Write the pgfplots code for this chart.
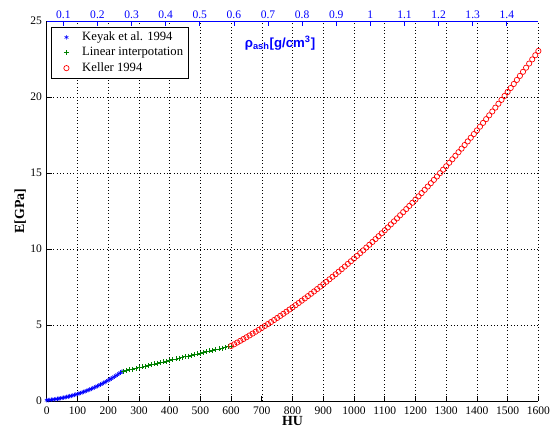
\documentclass[border=0pt]{standalone}
\usepackage{fontspec}
\setmainfont{Liberation Serif}
\setsansfont{Liberation Sans}
\usepackage{pgfplots}
\pgfplotsset{compat=1.18}
\definecolor{mgreen}{rgb}{0,0.5,0}
\begin{document}
\begin{tikzpicture}
\begin{axis}[
  name=main,
  scale only axis,
  width=353.5pt, height=273.2pt,
  xmin=0, xmax=1600, ymin=0, ymax=25,
  xtick={0,100,...,1600}, ytick={0,5,10,15,20,25},
  axis x line*=bottom, axis y line*=left,
  axis line style={-, black, line width=0.5pt},
  tick align=inside, major tick length=3.5pt,
  tick style={black, line width=0.5pt},
  grid=major,
  grid style={dotted, black, line width=0.45pt},
  clip=false,
  /pgf/number format/assume math mode=true,
  /pgf/number format/1000 sep={},
  tick label style={font=\fontsize{8.3}{10}\selectfont},
  xticklabel style={yshift=-0.5pt},
  xlabel={\textbf{HU}}, ylabel={\textbf{E[GPa]}},
  label style={font=\fontsize{11}{13}\selectfont},
  every axis x label/.style={at={(axis description cs:0.5,-0.053)},anchor=center},
  every axis y label/.style={at={(axis description cs:-0.054,0.5)},rotate=90,anchor=center},
  legend cell align=left,
  legend style={at={(axis description cs:0.0087,0.985)}, anchor=north west,
    draw=black, line width=0.5pt, fill=white,
    font=\fontsize{9.1}{11}\selectfont, inner xsep=1.5pt, inner ysep=1.5pt,
    row sep=-0.6pt},
  legend image code/.code={\path (0cm,0cm) (0.64cm,0cm); \draw[#1] plot coordinates {(0.32cm,0cm)};},
]
\addplot[only marks, mark=asterisk, mark size=1.6pt, blue, line width=0.4pt] coordinates {
(0,0.0493) (5,0.0594) (10,0.0704) (15,0.0825) (20,0.0956) (25,0.1098) (30,0.1251) (35,0.1414)
(40,0.1589) (45,0.1775) (50,0.1972) (55,0.2180) (60,0.2400) (65,0.2631) (70,0.2874) (75,0.3129)
(80,0.3396) (85,0.3675) (90,0.3965) (95,0.4268) (100,0.4583) (105,0.4910) (110,0.5250) (115,0.5602)
(120,0.5966) (125,0.6343) (130,0.6733) (135,0.7136) (140,0.7551) (145,0.7979) (150,0.8420) (155,0.8874)
(160,0.9341) (165,0.9821) (170,1.0314) (175,1.0820) (180,1.1340) (185,1.1873) (190,1.2419) (195,1.2979)
(200,1.3552) (205,1.4139) (210,1.4740) (215,1.5354) (220,1.5981) (225,1.6623) (230,1.7278) (235,1.7947)
(240,1.8630) (245,1.9327)
};
\addlegendentry{Keyak et al. 1994}
\addplot[only marks, mark=+, mark size=1.8pt, mgreen, line width=0.4pt] coordinates {
(250,1.960) (260,2.007) (270,2.055) (280,2.102) (290,2.150) (300,2.197) (310,2.245) (320,2.292)
(330,2.339) (340,2.387) (350,2.434) (360,2.482) (370,2.529) (380,2.577) (390,2.624) (400,2.671)
(410,2.719) (420,2.766) (430,2.814) (440,2.861) (450,2.909) (460,2.956) (470,3.003) (480,3.051)
(490,3.098) (500,3.146) (510,3.193) (520,3.241) (530,3.288) (540,3.335) (550,3.383) (560,3.430)
(570,3.478) (580,3.525) (590,3.573) (600,3.620)
};
\addlegendentry{Linear interpotation}
\addplot[only marks, mark=o, mark size=1.9pt, red, line width=0.5pt] coordinates {
(600,3.620) (610,3.731) (620,3.844) (630,3.958) (640,4.074) (650,4.192) (660,4.311) (670,4.433)
(680,4.555) (690,4.680) (700,4.806) (710,4.934) (720,5.063) (730,5.194) (740,5.327) (750,5.462)
(760,5.598) (770,5.736) (780,5.875) (790,6.017) (800,6.159) (810,6.304) (820,6.450) (830,6.598)
(840,6.748) (850,6.899) (860,7.052) (870,7.207) (880,7.363) (890,7.521) (900,7.681) (910,7.842)
(920,8.005) (930,8.170) (940,8.336) (950,8.504) (960,8.674) (970,8.845) (980,9.019) (990,9.193)
(1000,9.370) (1010,9.548) (1020,9.728) (1030,9.909) (1040,10.092) (1050,10.277) (1060,10.464) (1070,10.652)
(1080,10.842) (1090,11.033) (1100,11.226) (1110,11.421) (1120,11.618) (1130,11.816) (1140,12.016) (1150,12.218)
(1160,12.421) (1170,12.626) (1180,12.833) (1190,13.041) (1200,13.251) (1210,13.463) (1220,13.676) (1230,13.891)
(1240,14.108) (1250,14.326) (1260,14.546) (1270,14.768) (1280,14.991) (1290,15.216) (1300,15.443) (1310,15.672)
(1320,15.902) (1330,16.133) (1340,16.367) (1350,16.602) (1360,16.839) (1370,17.077) (1380,17.318) (1390,17.559)
(1400,17.803) (1410,18.048) (1420,18.295) (1430,18.544) (1440,18.794) (1450,19.046) (1460,19.299) (1470,19.555)
(1480,19.812) (1490,20.070) (1500,20.331) (1510,20.593) (1520,20.856) (1530,21.122) (1540,21.389) (1550,21.657)
(1560,21.928) (1570,22.200) (1580,22.474) (1590,22.749) (1600,23.026)
};
\addlegendentry{Keller 1994}
\node[blue, font=\sffamily\bfseries\fontsize{9.5}{11}\selectfont] at (axis description cs:0.4746,0.942)
  {ρ\textsubscript{ash}[g/cm\textsuperscript{3}]};
\coordinate (ll) at (rel axis cs:0,0);
\coordinate (ur) at (rel axis cs:1,1);
\end{axis}
\begin{axis}[
  scale only axis,
  width=353.5pt, height=273.2pt,
  at={(main.south west)}, anchor=south west,
  xmin=0.0513, xmax=1.4925, ymin=0, ymax=25,
  axis x line*=top, axis y line=none,
  axis line style={-, blue, line width=0.5pt},
  tick align=inside, major tick length=3.5pt,
  xtick style={blue, line width=0.5pt},
  xtick={0.1,0.2,0.3,0.4,0.5,0.6,0.7,0.8,0.9,1.0,1.1,1.2,1.3,1.4},
  xticklabels={0.1,0.2,0.3,0.4,0.5,0.6,0.7,0.8,0.9,1,1.1,1.2,1.3,1.4},
  xticklabel style={blue, font=\fontsize{8.3}{10}\selectfont, yshift=-1.5pt},
]
\end{axis}
\pgfresetboundingbox
\path ([shift={(-33.6pt,-19.4pt)}]ll) rectangle ([shift={(13.4pt,15.1pt)}]ur);
\end{tikzpicture}
\end{document}
